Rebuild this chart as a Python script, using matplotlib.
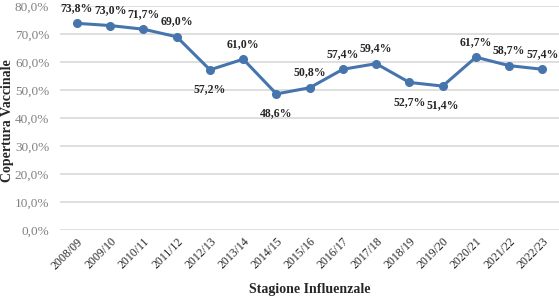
import numpy as np
import matplotlib.pyplot as plt
from matplotlib.ticker import FuncFormatter

seasons = ['2008/09', '2009/10', '2010/11', '2011/12', '2012/13', '2013/14', '2014/15',
           '2015/16', '2016/17', '2017/18', '2018/19', '2019/20', '2020/21', '2021/22', '2022/23']
coverage = [73.8, 73.0, 71.7, 69.0, 57.2, 61.0, 48.6, 50.8, 57.4, 59.4, 52.7, 51.4, 61.7, 58.7, 57.4]
below = [False, False, False, False, True, False, True, False, False, False, True, True, False, False, False]

plt.rcParams['font.family'] = ['Liberation Serif', 'DejaVu Serif']

fig = plt.figure(figsize=(5.59, 2.98), dpi=100)
ax = fig.add_axes([0.108, 0.228, 0.892, 0.752])

x = np.arange(len(seasons))
ax.plot(x, coverage, '-o', color='#4675AE', lw=2.2, ms=5.5, zorder=3)

for xi, v, b in zip(x, coverage, below):
    lab = f"{v:.1f}%".replace('.', ',')
    dy = -14 if b else 11
    ax.annotate(lab, (xi, v), xytext=(0, dy), textcoords='offset points',
                ha='center', va='center', fontsize=8.5, fontweight='bold', color='#262626')

ax.set_xlim(-0.5, len(seasons) - 0.5)
ax.set_ylim(0, 80)
ax.set_yticks(np.arange(0, 81, 10))
ax.yaxis.set_major_formatter(FuncFormatter(lambda v, p: f"{v:.1f}%".replace('.', ',')))
ax.set_xticks(x)
ax.set_xticklabels(seasons, rotation=45, ha='right', rotation_mode='anchor')
ax.tick_params(axis='y', length=0, labelsize=9.5, colors='#808080', pad=8)
ax.tick_params(axis='x', length=0, labelsize=8.5, colors='#262626', pad=4)
ax.grid(axis='y', color='#D9D9D9', lw=1.2)
ax.set_axisbelow(True)
for s in ax.spines.values():
    s.set_visible(False)

fig.text(8 / 559, 0.595, 'Copertura Vaccinale', rotation=90, ha='center', va='center',
         fontsize=10, fontweight='bold', color='#262626')
fig.text(0.555, 0.027, 'Stagione Influenzale', ha='center', va='center',
         fontsize=10, fontweight='bold', color='#262626')

plt.savefig('out.png', dpi=100)
